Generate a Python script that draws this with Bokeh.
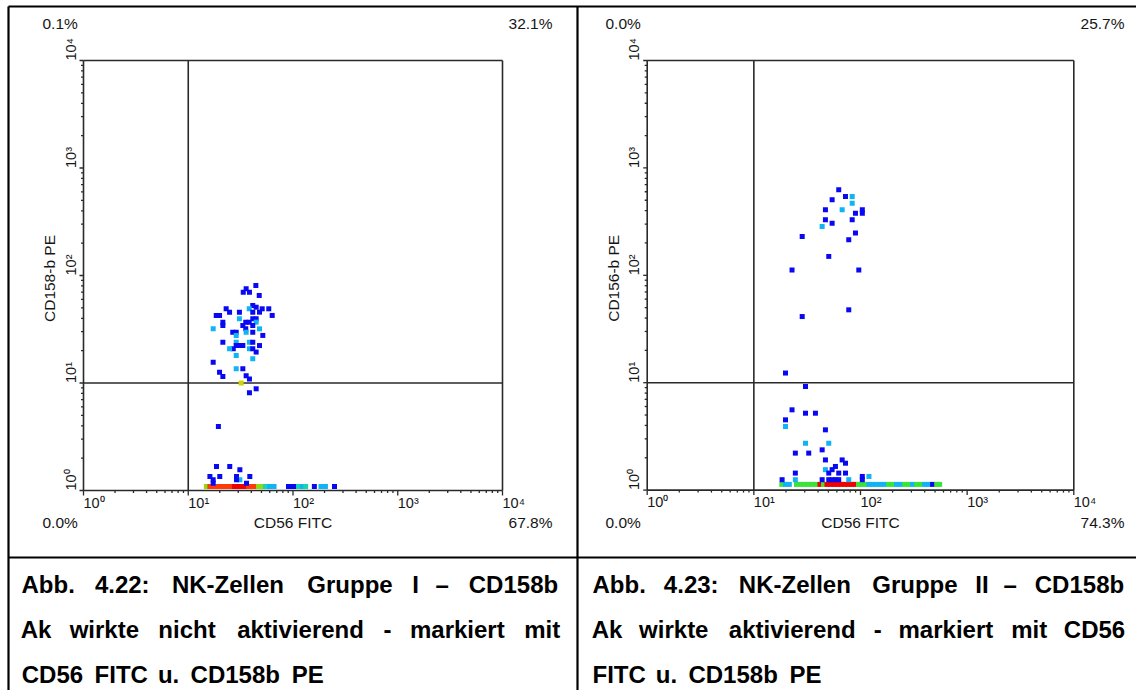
import math
from bokeh.plotting import figure
from bokeh.models import Range1d, LogScale
from bokeh.embed import file_html
from bokeh.resources import INLINE
from bokeh.core.properties import value

# ---------------- data ----------------
# Left panel: NK cells group I  (x = CD56 FITC, y = CD158b PE, level = density class)
left_floor_cd56 = [14.9, 16.1, 17.4, 18.8, 20.3, 21.9, 23.7, 25.6, 27.7, 29.9, 32.2, 34.8, 37.6, 40.6, 43.4,
                   46.9, 50.6, 54.6, 59.7, 65.9, 90.6, 97.8, 106, 113, 122, 132, 160, 185, 204, 249]
left_floor_cd158b = [1.09, 1.09, 1.09, 1.09, 1.09, 1.09, 1.09, 1.09, 1.09, 1.09, 1.09, 1.09, 1.09, 1.09, 1.09,
                     1.09, 1.09, 1.09, 1.09, 1.09, 1.09, 1.09, 1.09, 1.09, 1.09, 1.09, 1.09, 1.09, 1.09, 1.09]
left_floor_level = [5, 7, 7, 7, 7, 7, 7, 7, 8, 8, 8, 8, 7, 7, 7,
                    5, 5, 3, 2, 2, 1, 1, 1, 3, 2, 3, 1, 2, 2, 1]

left_cd56 = [18.6, 24.9, 31.1, 16.1, 20.0, 28.9, 38.7, 17.3, 31.1, 28.9, 17.3, 36.0,
             44.2, 35.7, 33.5, 38.4, 47.6, 41.3, 44.5, 38.2, 50.8, 58.7, 23.0, 24.8, 30.8, 41.3, 47.9,
             18.5, 19.9, 63.3, 30.8, 41.3, 44.5, 21.4, 35.4, 38.2, 44.5, 21.4, 33.2, 41.3, 17.3, 47.9,
             35.4, 26.6, 28.7, 35.7, 41.3, 51.5, 28.7, 21.4, 28.7, 38.4, 41.3, 33.2, 30.8, 28.7, 47.9,
             26.9, 24.8, 38.4, 41.3, 44.5, 28.7, 41.3, 17.3, 28.7, 33.2, 19.9, 21.4, 35.7, 38.4, 32.0,
             44.5, 38.4, 19.4]
left_cd158b = [1.67, 1.67, 1.56, 1.35, 1.35, 1.35, 1.35, 1.26, 1.26, 1.26, 1.17, 1.17,
               80.7, 75.2, 69.9, 69.9, 65.2, 52.6, 50.7, 49.0, 49.0, 49.0, 49.0, 45.6, 45.6, 45.6, 45.6,
               42.5, 42.5, 42.5, 39.6, 39.6, 39.6, 36.8, 36.8, 36.8, 36.8, 34.3, 34.3, 34.3, 31.9, 31.9,
               31.9, 29.7, 29.7, 29.7, 29.7, 27.7, 27.7, 24.0, 24.0, 24.0, 24.0, 22.3, 22.3, 22.3, 22.3,
               20.8, 20.8, 20.8, 20.8, 19.4, 18.0, 16.8, 15.6, 13.6, 13.6, 12.6, 11.5, 11.7, 10.9, 10.0,
               8.83, 8.11, 3.94]
left_level = [1, 1, 1, 1, 1, 1, 1, 1, 2, 1, 1, 1,
              1, 1, 1, 1, 1, 1, 1, 2, 1, 1, 1, 1, 1, 1, 1,
              1, 1, 1, 2, 1, 1, 1, 1, 1, 2, 1, 1, 1, 2, 2,
              1, 1, 1, 2, 1, 1, 2, 1, 2, 2, 1, 1, 1, 1, 1,
              1, 2, 2, 1, 1, 2, 2, 1, 2, 1, 1, 1, 1, 1, 6,
              1, 1, 1]

# Right panel: NK cells group II (x = CD56 FITC, y = CD156-b PE)
right_floor_cd56 = [18.3, 19.8, 21.5, 25.1, 27.3, 29.8, 32.5, 35.4, 38.6, 41.7, 45.0, 48.5, 52.3, 56.4,
                    60.8, 65.6, 70.8, 76.3, 82.3, 88.8, 95.8, 103, 111, 120, 130, 141, 154, 168,
                    183, 200, 218, 238, 259, 282, 308, 336, 366, 399, 435, 474, 518, 552]
right_floor_cd156b = [1.13, 1.13, 1.13, 1.13, 1.13, 1.13, 1.13, 1.13, 1.13, 1.13, 1.13, 1.13, 1.13, 1.13,
                      1.13, 1.13, 1.13, 1.13, 1.13, 1.13, 1.13, 1.13, 1.13, 1.13, 1.13, 1.13, 1.13, 1.13,
                      1.13, 1.13, 1.13, 1.13, 1.13, 1.13, 1.13, 1.13, 1.13, 1.13, 1.13, 1.13, 1.13, 1.13]
right_floor_level = [4, 2, 2, 4, 4, 4, 4, 4, 4, 8, 4, 8, 8, 8,
                     8, 8, 8, 8, 8, 8, 4, 4, 4, 2, 2, 2, 2, 2,
                     4, 4, 2, 2, 4, 4, 2, 4, 4, 2, 2, 1, 4, 4]

right_cd56 = [19.8, 30.5, 22.8, 30.5, 37.8, 19.8, 19.8, 46.9, 30.5, 50.4, 43.7, 24.5, 32.7, 46.9, 67.3,
              72.3, 58.2, 54.2, 46.9, 50.4, 62.5, 72.3, 24.5, 24.5, 18.4, 43.7, 50.4, 54.2, 58.2, 62.5,
              77.6, 104, 104, 120,
              62.5, 72.3, 83.6, 54.2, 83.6, 46.9, 67.3, 89.7, 104, 104, 46.9, 54.2, 83.6, 43.7, 28.4,
              89.7, 77.6, 50.4, 22.8, 96.4, 77.6, 28.4]
right_cd156b = [12.3, 9.22, 5.59, 5.20, 5.20, 4.51, 3.91, 3.64, 2.73, 2.73, 2.37, 2.21, 2.21, 1.91, 1.91,
                1.78, 1.66, 1.55, 1.55, 1.44, 1.44, 1.44, 1.44, 1.25, 1.25, 1.25, 1.25, 1.25, 1.25, 1.25,
                1.25, 1.34, 1.25, 1.34,
                625, 542, 542, 505, 469, 407, 407, 379, 407, 379, 329, 305, 329, 285, 230,
                247, 214, 150, 112, 112, 47.7, 41.3]
right_level = [1, 1, 1, 1, 1, 1, 2, 1, 2, 2, 1, 1, 1, 1, 1,
               1, 1, 1, 2, 1, 1, 1, 1, 2, 1, 1, 1, 1, 1, 1,
               2, 1, 1, 2,
               1, 1, 2, 1, 2, 1, 2, 1, 1, 1, 1, 1, 1, 2, 1,
               1, 1, 1, 1, 1, 1, 1]

quad_left = ["0.1%", "32.1%", "0.0%", "67.8%"]     # UL, UR, LL, LR
quad_right = ["0.0%", "25.7%", "0.0%", "74.3%"]
decade_ticks = [1, 10, 100, 1000, 10000]
decade_labels = ["10\u2070", "10\u00b9", "10\u00b2", "10\u00b3", "10\u2074"]
gate_value = 10
x_title = "CD56 FITC"
y_title_left = "CD158-b PE"
y_title_right = "CD156-b PE"

caption_left = ["Abb. 4.22: NK-Zellen Gruppe I \u2013 CD158b",
                "Ak wirkte nicht aktivierend - markiert mit",
                "CD56 FITC u. CD158b PE"]
caption_right = ["Abb. 4.23: NK-Zellen Gruppe II \u2013 CD158b",
                 "Ak wirkte aktivierend - markiert mit CD56",
                 "FITC u. CD158b PE"]

# ---------------- styling ----------------
W, H = 1136, 690
LEVEL_COLORS = {1: "#0808F2", 2: "#10B4F4", 3: "#10D8B0", 4: "#3AE23A",
                5: "#8EDC10", 6: "#D2D200", 7: "#FF3A08", 8: "#F00000"}
FONT = value("Liberation Sans")
TXT = "#161616"
AXC = "#2a2a2a"

p = figure(width=W, height=H, x_range=Range1d(0, W), y_range=Range1d(H, 0),
           min_border=0, toolbar_location=None, output_backend="svg",
           x_axis_location=None, y_axis_location=None)
p.outline_line_color = None
p.grid.visible = False
p.background_fill_color = "white"
p.border_fill_color = "white"

# panel geometry in page pixels: left edge, px per decade, bottom edge, px per decade
panels = [
    dict(key="L", x0=83.0, dx=104.75, y0=490.0, dy=107.5,
         xs=left_cd56, ys=left_cd158b, lv=left_level,
         fx=left_floor_cd56, fy=left_floor_cd158b, fl=left_floor_level,
         quad=quad_left, ytitle=y_title_left, qlx=42, qrx=552),
    dict(key="R", x0=646.7, dx=106.65, y0=489.6, dy=107.4,
         xs=right_cd56, ys=right_cd156b, lv=right_level,
         fx=right_floor_cd56, fy=right_floor_cd156b, fl=right_floor_level,
         quad=quad_right, ytitle=y_title_right, qlx=605, qrx=1124),
]

ex_x, ex_y, sc_x, sc_y = {}, {}, {}, {}
for pn in panels:
    k = pn["key"]
    ex_x[k + "x"] = Range1d(10 ** (-pn["x0"] / pn["dx"]), 10 ** ((W - pn["x0"]) / pn["dx"]))
    ex_y[k + "y"] = Range1d(10 ** ((pn["y0"] - H) / pn["dy"]), 10 ** (pn["y0"] / pn["dy"]))
    sc_x[k + "x"] = LogScale()
    sc_y[k + "y"] = LogScale()
p.extra_x_ranges = ex_x
p.extra_y_ranges = ex_y
p.extra_x_scales = sc_x
p.extra_y_scales = sc_y

minor = [m * 10 ** e for e in range(4) for m in range(2, 10)]
lo, hi = decade_ticks[0], decade_ticks[-1]

for pn in panels:
    xr, yr = pn["key"] + "x", pn["key"] + "y"
    x0, y0 = pn["x0"], pn["y0"]
    # frame
    p.segment(x0=[lo, lo, lo, hi], y0=[lo, hi, lo, lo], x1=[hi, hi, lo, hi], y1=[lo, hi, hi, hi],
              x_range_name=xr, y_range_name=yr, line_color=AXC, line_width=1.6)
    # gates
    p.segment(x0=[gate_value, lo], y0=[lo, gate_value], x1=[gate_value, hi], y1=[hi, gate_value],
              x_range_name=xr, y_range_name=yr, line_color=AXC, line_width=1.6)
    # x ticks
    p.segment(x0=decade_ticks, x1=decade_ticks, y0=[y0] * 5, y1=[y0 + 5] * 5,
              x_range_name=xr, line_color=AXC, line_width=1.3)
    p.segment(x0=minor, x1=minor, y0=[y0] * len(minor), y1=[y0 + 2.5] * len(minor),
              x_range_name=xr, line_color=AXC, line_width=1.3)
    # y ticks
    p.segment(x0=[x0] * 5, x1=[x0 - 4] * 5, y0=decade_ticks, y1=decade_ticks,
              y_range_name=yr, line_color=AXC, line_width=1.3)
    p.segment(x0=[x0] * len(minor), x1=[x0 - 2.5] * len(minor), y0=minor, y1=minor,
              y_range_name=yr, line_color=AXC, line_width=1.3)
    # tick labels
    p.text(x=decade_ticks, y=[y0 + 12] * 5, text=decade_labels, x_range_name=xr,
           text_align="left", text_baseline="middle", text_font=FONT,
           text_font_size="14.5px", text_color=TXT)
    p.text(x=[x0 - 13] * 5, y=decade_ticks, text=decade_labels, y_range_name=yr, angle=math.pi / 2,
           text_align="left", text_baseline="middle", text_font=FONT,
           text_font_size="14.5px", text_color=TXT)
    # points: floor band first, then events
    p.scatter(x=pn["fx"], y=pn["fy"], marker="square", size=5,
              fill_color=[LEVEL_COLORS[v] for v in pn["fl"]], line_color=None,
              x_range_name=xr, y_range_name=yr)
    p.scatter(x=pn["xs"], y=pn["ys"], marker="square", size=5,
              fill_color=[LEVEL_COLORS[v] for v in pn["lv"]], line_color=None,
              x_range_name=xr, y_range_name=yr)
    # titles
    xmid = x0 + 2 * pn["dx"]
    p.text(x=[xmid], y=[y0 + 32], text=[x_title], text_align="center", text_baseline="middle",
           text_font=FONT, text_font_size="15.5px", text_color=TXT)
    p.text(x=[x0 - 34], y=[y0 - 2 * pn["dy"] + 3], text=[pn["ytitle"]], angle=math.pi / 2,
           text_align="center", text_baseline="middle",
           text_font=FONT, text_font_size="15.5px", text_color=TXT)
    # quadrant percentages
    q = pn["quad"]
    p.text(x=[pn["qlx"], pn["qlx"]], y=[23, y0 + 32], text=[q[0], q[2]], text_align="left",
           text_baseline="middle", text_font=FONT, text_font_size="15.5px", text_color=TXT)
    p.text(x=[pn["qrx"], pn["qrx"]], y=[23, y0 + 32], text=[q[1], q[3]], text_align="right",
           text_baseline="middle", text_font=FONT, text_font_size="15.5px", text_color=TXT)

# table borders
p.segment(x0=[8, 8, 577, 8], y0=[6, 6, 6, 557], x1=[W, 8, 577, W], y1=[6, H, H, 557],
          line_color="black", line_width=2.2)

# captions (justified, bold)
AB = {' ': 278, 'A': 722, 'b': 611, '.': 278, '4': 556, '2': 556, '3': 556, ':': 333, 'N': 722,
      'K': 722, '-': 333, 'Z': 611, 'e': 556, 'l': 278, 'n': 611, 'G': 778, 'r': 389, 'u': 611,
      'p': 611, 'I': 278, '\u2013': 556, 'C': 722, 'D': 722, '1': 556, '5': 556, '8': 556,
      '6': 556, 'k': 556, 'w': 778, 'i': 278, 't': 333, 'c': 556, 'h': 611, 'a': 556, 'v': 556,
      'd': 611, 'm': 889, 'F': 611, 'T': 611, 'P': 667, 'E': 667}
CAP_FS = 24
CAP_K = 1.075


def caption(lines, xl, xr, baselines):
    for i, (line, yb) in enumerate(zip(lines, baselines)):
        words = line.split(" ")
        slots = [sum(AB.get(c, 556) for c in w) * CAP_FS / 1000 * CAP_K for w in words]
        if i < len(lines) - 1:
            gap = (xr - xl - sum(slots)) / (len(words) - 1)
        else:
            gap = AB[" "] * CAP_FS / 1000 * CAP_K
        xs, x = [], xl
        for s in slots:
            xs.append(x + s / 2)
            x += s + gap
        p.text(x=xs, y=[yb] * len(words), text=words, text_align="center",
               text_baseline="alphabetic", text_font=FONT, text_font_style="bold",
               text_font_size=f"{CAP_FS}px", text_color="black")


caption(caption_left, 19, 561, [584, 629, 674])
caption(caption_right, 590, 1127, [584, 629, 674])

open("out.html", "w").write(file_html(p, INLINE))
